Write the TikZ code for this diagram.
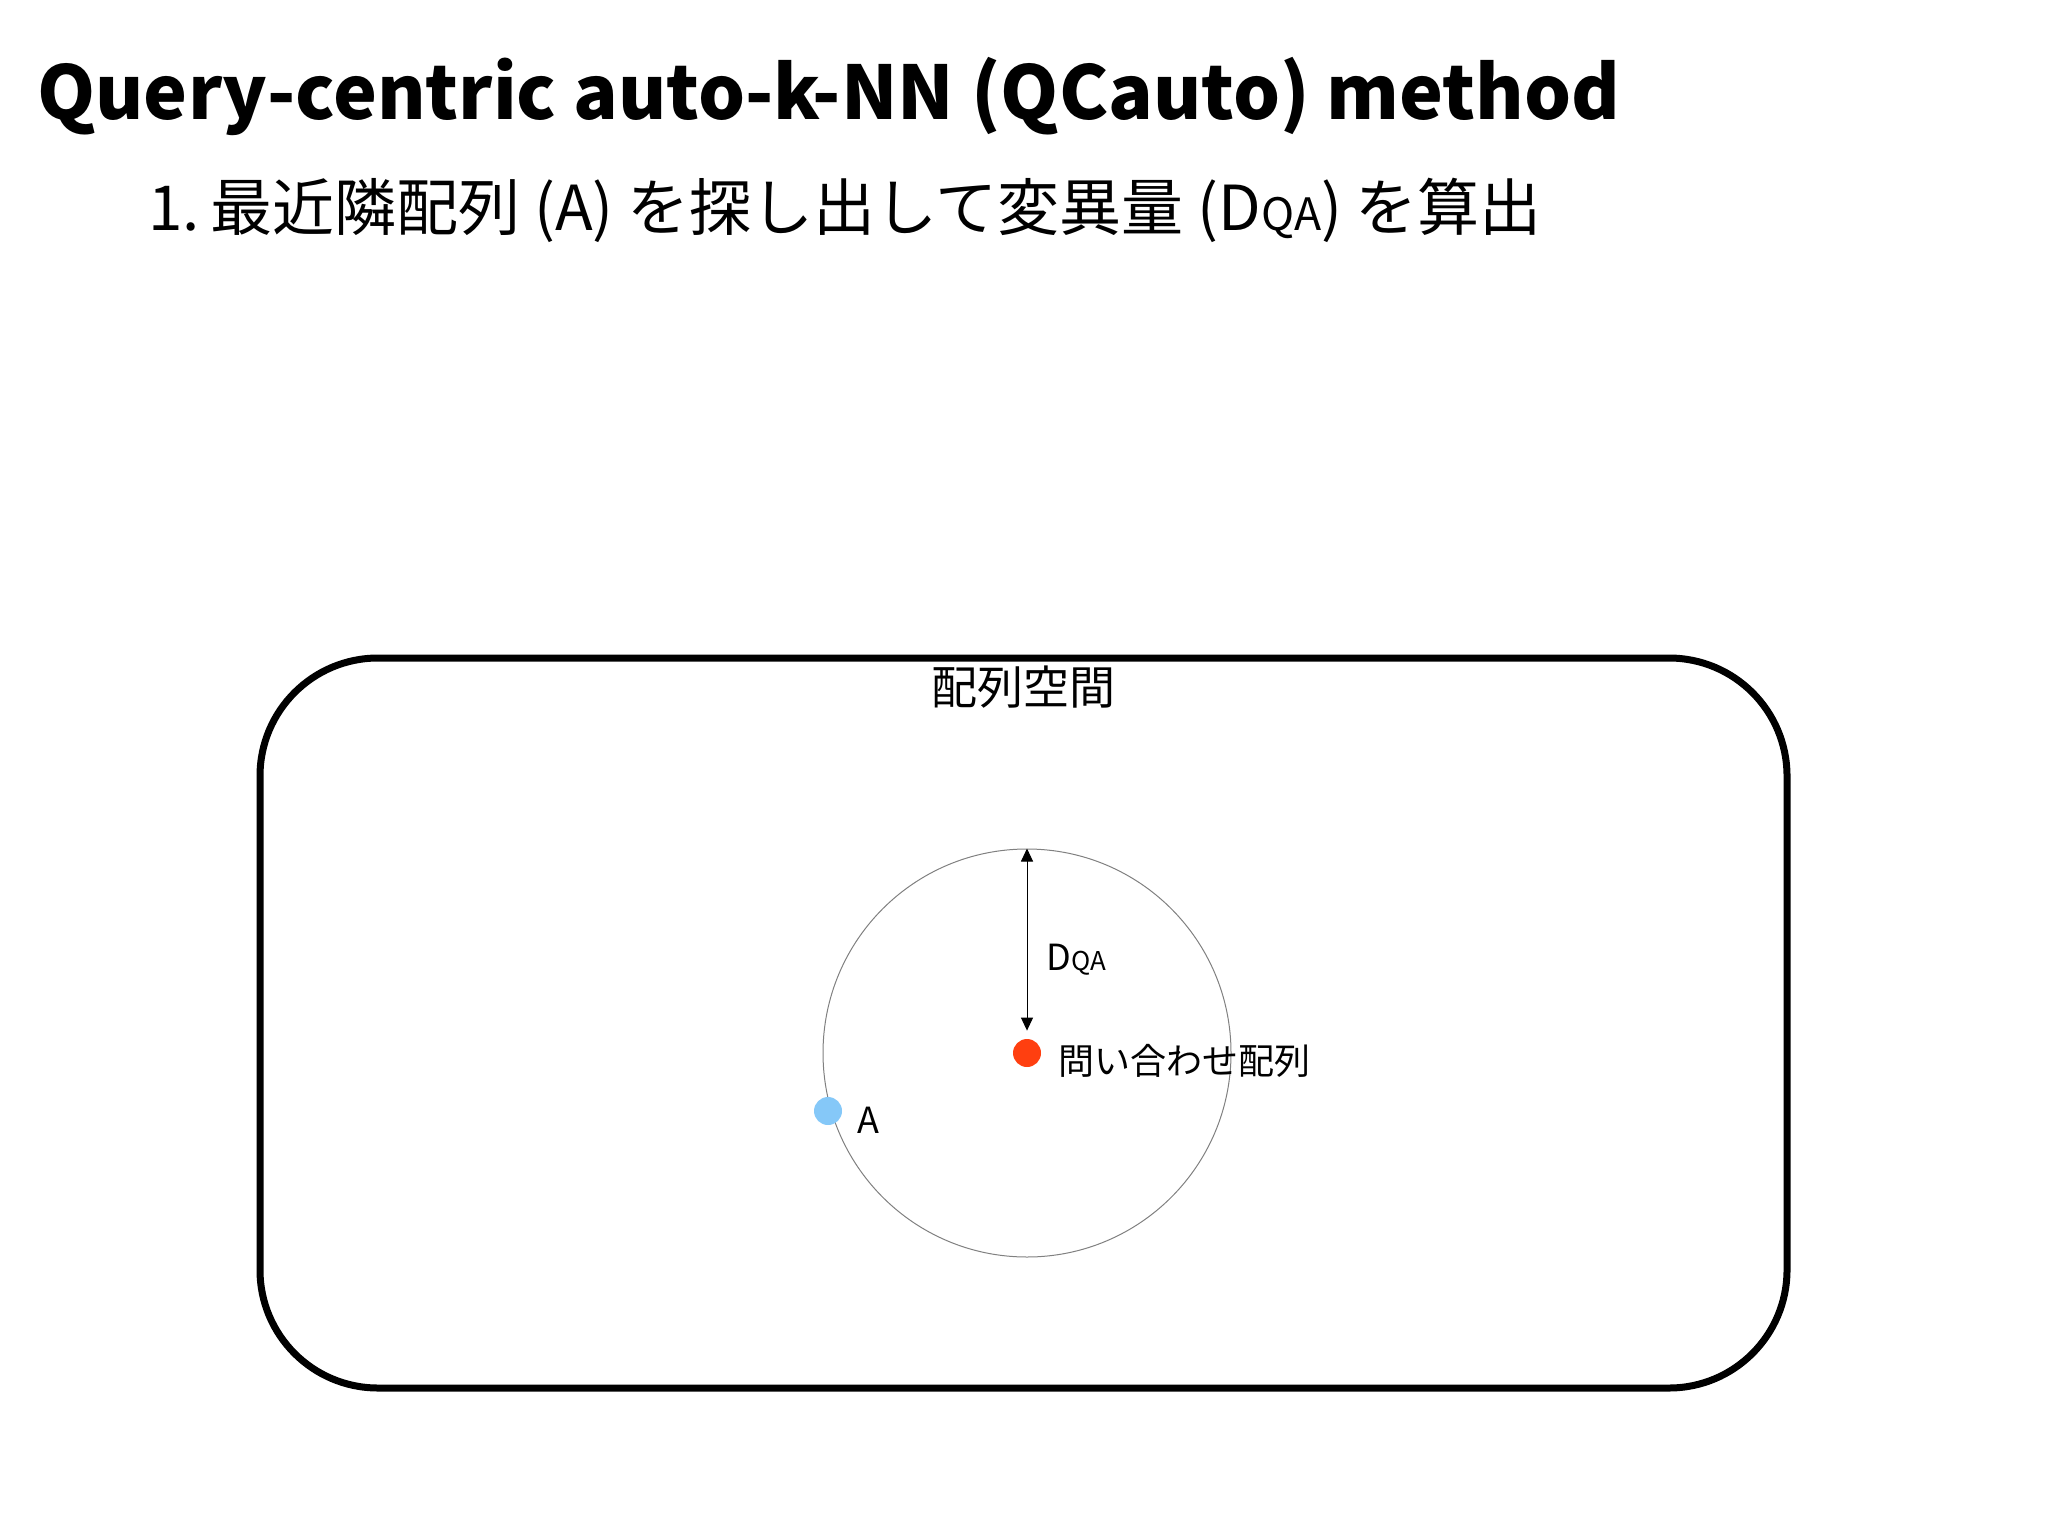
\documentclass[tikz,border=0pt]{standalone}
\usepackage{fontspec}
\usepackage{graphicx}
\setmainfont{Noto Sans CJK JP}
\usetikzlibrary{arrows.meta,positioning}

\definecolor{queryred}{HTML}{FF3F10}
\definecolor{nnblue}{HTML}{85C8F8}
\definecolor{rangegray}{HTML}{808080}

\newcommand{\Dqa}{D\scalebox{0.72}{QA}}

\begin{document}
\begin{tikzpicture}[x=0.5pt,y=-0.5pt]
        \tikzstyle{every node}=[inner sep=0pt]
        \tikzstyle{dot}=[circle, minimum size=14pt]
        \tikzstyle{lbl}=[font=\fontsize{18pt}{20pt}\selectfont, anchor=west]
        \tikzstyle{tip}=[Triangle, length=6.5pt, width=6pt]
        \useasboundingbox (0,0) rectangle (2048,1535);

        % heading
        \node[anchor=base west, font=\fontsize{37pt}{42pt}\selectfont\bfseries] (title) at (37,120)
            {Query-centric auto-k-NN (QCauto) method};
        \node[anchor=base west, font=\fontsize{31pt}{36pt}\selectfont] (step) at (148,231)
            {1.\,最近隣配列 (A) を探し出して変異量 (\Dqa) を算出};

        % sequence space
        \draw[line width=3.5pt, rounded corners=59pt] (260,658) rectangle (1787,1388);
        \node[font=\fontsize{23pt}{26pt}\selectfont] (spacelbl) at (1023,687) {配列空間};

        % query and its nearest neighbour
        \node[dot, fill=queryred] (query) at (1027,1053) {};
        \node[circle, draw=rangegray, line width=0.5pt, minimum size=204pt] (range) at (query.center) {};
        \node[dot, fill=nnblue] (nnA) at (828,1111) {};
        \node[lbl] (querylbl) at (1058,1061) {問い合わせ配列};
        \node[lbl] (nnlbl) at (857,1120) {A};
        \node[lbl] (dlbl) at (1046,960) {\Dqa};
        \draw[{Triangle[length=6.5pt,width=6pt]}-{Triangle[length=6.5pt,width=6pt]}, line width=0.5pt]
            (range.north) -- ([yshift=4pt]query.north);
    \end{tikzpicture}
\end{document}
